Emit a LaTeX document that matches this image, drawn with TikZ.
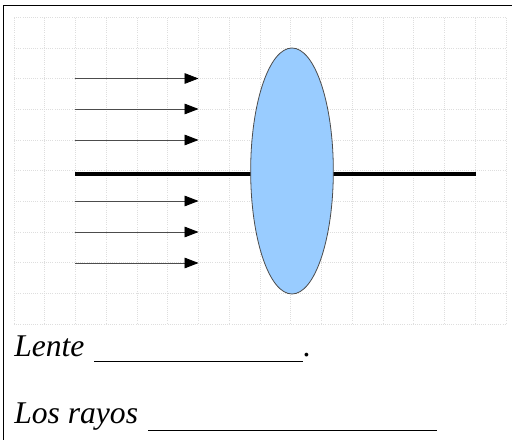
\documentclass[tikz,border=0pt]{standalone}
\usepackage{fontspec}
\setmainfont{Liberation Serif}
\usetikzlibrary{arrows.meta,shapes.geometric}
\tikzset{
  gridline/.style={black!13,line width=0.6pt,densely dotted},
  ray/.style={black!70,line width=0.6pt,-{Triangle[black,length=10.5pt,width=8pt]}},
  axisline/.style={black,line width=3pt},
  lens/.style={draw=black!70,fill=lensblue,line width=0.6pt,ellipse,inner sep=0pt,minimum width=62pt,minimum height=184.5pt},
  caption/.style={font=\itshape\fontsize{23.7}{26}\selectfont,inner sep=0pt,anchor=base west},
  blank/.style={black,line width=0.7pt}
}
\definecolor{lensblue}{HTML}{99CCFF}
\begin{document}
\begin{tikzpicture}[x=0.75pt,y=-0.75pt]
            \useasboundingbox (0,0) rectangle (512,440);
            %Frame
            \draw[black,line width=1.1pt] (3.5,440) -- (3.5,5.5) -- (512,5.5);

            %Grid
            \foreach \gx in {0,...,16}
                \draw[gridline] ({14+30.75*\gx},17.5) -- ({14+30.75*\gx},324);
            \foreach \gy in {0,...,10}
                \draw[gridline] (14,{17.5+30.65*\gy}) -- (506,{17.5+30.65*\gy});

            %Nodes
            \coordinate (axisL) at (75,173.5);
            \coordinate (axisR) at (476,173.5);
            \foreach \n/\ry in {1/78.5,2/109,3/140,4/201,5/232,6/263} {
                \coordinate (a\n) at (75,\ry);
                \coordinate (b\n) at (198.5,\ry);
            }
            \coordinate (u1) at (94,361.5);
            \coordinate (u2) at (302.5,361.5);
            \coordinate (v1) at (148,430.5);
            \coordinate (v2) at (437,430.5);

            %Lines
            \draw[axisline] (axisL) -- (axisR);
            \foreach \n in {1,...,6}
                \draw[ray] (a\n) -- (b\n);

            \node[lens] (lente) at (292,171) {};
            \node[caption] (lbl1) at (14,356) {Lente};
            \node[caption] (lbl2) at (14,423) {Los rayos};
            \node[caption] (dot) at (303,356) {.};
            \draw[blank] (u1) -- (u2);
            \draw[blank] (v1) -- (v2);
        \end{tikzpicture}
\end{document}
